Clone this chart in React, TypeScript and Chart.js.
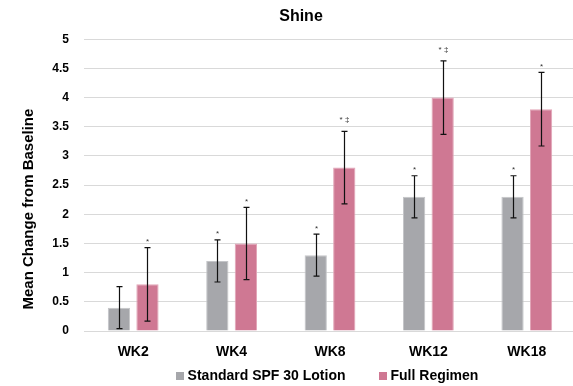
import React, { useEffect, useRef } from "react";
import { Chart, registerables } from "chart.js";

Chart.register(...registerables);

const categories = ["WK2", "WK4", "WK8", "WK12", "WK18"];
const seriesNames = ["Standard SPF 30 Lotion", "Full Regimen"];
const standardValues = [0.4, 1.2, 1.3, 2.3, 2.3];
const fullValues = [0.8, 1.5, 2.8, 4.0, 3.8];
const standardErrors = [0.36, 0.36, 0.36, 0.36, 0.36];
const fullErrors = [0.63, 0.62, 0.62, 0.63, 0.63];
const standardMarks = ["", "*", "*", "*", "*"];
const fullMarks = ["*", "*", "* ‡", "* ‡", "*"];
const chartTitle = "Shine";
const yAxisTitle = "Mean Change from Baseline";

const FONT = '"Liberation Sans", Arial, sans-serif';
const GREY = "#a6a7ab";
const PINK = "#cf7893";

const decorPlugin = {
  id: "decor",
  afterDatasetsDraw(chart: any) {
    const ctx = chart.ctx;
    const yScale = chart.scales.y;
    const errs = [standardErrors, fullErrors];
    const marks = [standardMarks, fullMarks];
    chart.data.datasets.forEach((ds: any, di: number) => {
      const meta = chart.getDatasetMeta(di);
      meta.data.forEach((bar: any, i: number) => {
        const v = ds.data[i];
        const e = errs[di][i];
        const yt = yScale.getPixelForValue(v + e);
        const yb = yScale.getPixelForValue(v - e);
        const x = Math.round(bar.x) + 0.5;
        ctx.save();
        ctx.strokeStyle = "#111";
        ctx.lineWidth = 1.2;
        ctx.beginPath();
        ctx.moveTo(x, yt);
        ctx.lineTo(x, yb);
        ctx.moveTo(x - 3, yt);
        ctx.lineTo(x + 3, yt);
        ctx.moveTo(x - 3, yb);
        ctx.lineTo(x + 3, yb);
        ctx.stroke();
        const m = marks[di][i];
        if (m) {
          ctx.font = `8px ${FONT}`;
          ctx.fillStyle = "#333";
          ctx.textAlign = "center";
          ctx.textBaseline = "alphabetic";
          ctx.fillText(m, x, yt - (m.includes("‡") ? 9 : 3.5));
        }
        ctx.restore();
      });
    });
  },
  afterDraw(chart: any) {
    const ctx = chart.ctx;
    const area = chart.chartArea;
    // y axis title
    ctx.save();
    ctx.font = `bold 15px ${FONT}`;
    ctx.fillStyle = "#000";
    ctx.textAlign = "center";
    ctx.textBaseline = "middle";
    ctx.translate(area.left - 55, (area.top + area.bottom) / 2 + 24);
    ctx.rotate(-Math.PI / 2);
    ctx.fillText(yAxisTitle, 0, 0);
    ctx.restore();

    // legend
    ctx.save();
    ctx.font = `bold 14px ${FONT}`;
    ctx.textBaseline = "middle";
    ctx.textAlign = "left";
    const box = 8;
    const boxGap = 4;
    const itemGap = 33;
    const colors = chart.data.datasets.map((d: any) => d.backgroundColor);
    const labels = chart.data.datasets.map((d: any) => d.label);
    const widths = labels.map((l: string) => ctx.measureText(l).width);
    let total = 0;
    widths.forEach((w: number, i: number) => {
      total += box + boxGap + w + (i < widths.length - 1 ? itemGap : 0);
    });
    let x = (area.left + area.right) / 2 - 3 - total / 2;
    const cy = area.bottom + 45;
    labels.forEach((l: string, i: number) => {
      ctx.fillStyle = colors[i];
      ctx.fillRect(Math.round(x), Math.round(cy - box / 2), box, box);
      ctx.fillStyle = "#000";
      ctx.fillText(l, x + box + boxGap, cy);
      x += box + boxGap + widths[i] + itemGap;
    });
    ctx.restore();
  },
};

export default function App() {
  const ref = useRef<HTMLCanvasElement | null>(null);
  useEffect(() => {
    document.body.style.margin = "0";
    const canvas = ref.current;
    if (!canvas) return;
    Chart.defaults.font.family = FONT;
    const chart = new Chart(canvas, {
      type: "bar",
      data: {
        labels: categories,
        datasets: [
          {
            label: seriesNames[0],
            data: standardValues,
            backgroundColor: GREY,
            borderColor: "#c4c5c8",
            borderWidth: 1,
            categoryPercentage: 0.58,
            barPercentage: 0.78,
          },
          {
            label: seriesNames[1],
            data: fullValues,
            backgroundColor: PINK,
            borderColor: "#e2a5b7",
            borderWidth: 1,
            categoryPercentage: 0.58,
            barPercentage: 0.78,
          },
        ],
      },
      options: {
        responsive: false,
        animation: false,
        devicePixelRatio: 1,
        layout: { padding: { left: 26, right: 1, top: 0, bottom: 0 } },
        plugins: {
          legend: { display: false },
          tooltip: { enabled: false },
          title: {
            display: true,
            text: chartTitle,
            color: "#000",
            font: { size: 16, weight: "bold", family: FONT },
            padding: { top: 7, bottom: 13 },
          },
        },
        scales: {
          x: {
            grid: { display: false },
            border: { display: false },
            ticks: {
              color: "#000",
              font: { size: 14, weight: "bold", family: FONT },
              padding: 5,
            },
            afterFit(scale: any) {
              scale.height = 55;
            },
          },
          y: {
            min: 0,
            max: 5,
            grid: { color: "#d9d9d9", lineWidth: 1, drawTicks: false },
            border: { display: false },
            ticks: {
              stepSize: 0.5,
              color: "#000",
              font: { size: 12, weight: "bold", family: FONT },
              padding: 15,
              callback: (v: any) => String(Number(v)),
            },
            afterFit(scale: any) {
              scale.width = 58;
            },
          },
        },
      },
      plugins: [decorPlugin],
    } as any);
    return () => chart.destroy();
  }, []);
  return (
    <div style={{ width: 573, height: 386, overflow: "hidden", background: "#fff" }}>
      <canvas ref={ref} width={577} height={386} style={{ display: "block" }} />
    </div>
  );
}
